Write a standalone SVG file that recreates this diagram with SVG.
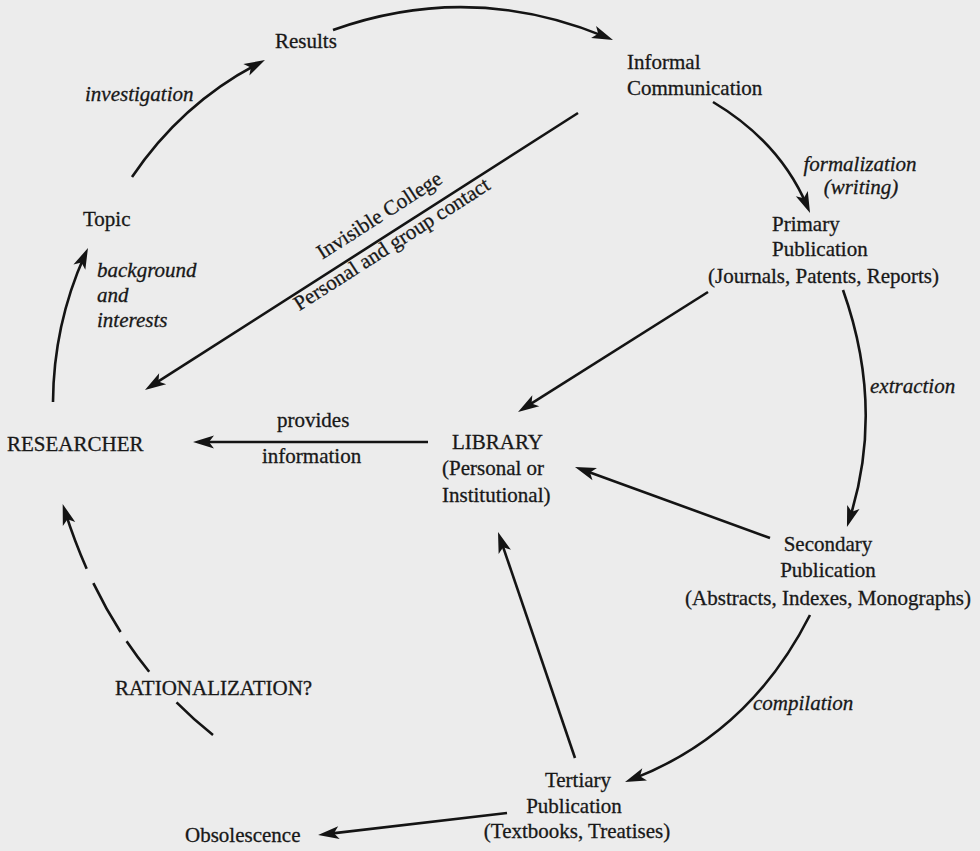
<svg xmlns="http://www.w3.org/2000/svg" width="980" height="851" viewBox="0 0 980 851">
<defs>
<style>
text { font-family: "Liberation Serif", "Times New Roman", serif; font-size: 21px; fill: #181818; stroke: #181818; stroke-width: 0.3; }
.it { font-style: italic; }
.mid { text-anchor: middle; }
.edge { fill: none; stroke: #141414; stroke-width: 2.6; marker-end: url(#ah); }
.dash { stroke-dasharray: 49 41 38 11 56 16 400; }
</style>
<marker id="ah" markerUnits="userSpaceOnUse" orient="auto" refX="-8" refY="0" markerWidth="1" markerHeight="1" overflow="visible">
<path d="M0,0 L-21,-6.5 L-16,0 L-21,6.5 Z" fill="#141414"/>
</marker>
</defs>
<rect x="0" y="0" width="980" height="851" fill="#ececec"/>

<g id="connectors">
<path id="e-results-informal" class="edge" d="M333,30 Q470,-19 605.6,36.9"/>
<path id="e-topic-results" class="edge" d="M132,177 Q181.5,103.5 257.9,63.7"/>
<path id="e-researcher-topic" class="edge" d="M53,402 Q53.5,325 84.7,255.3"/>
<path id="e-informal-primary" class="edge" d="M713,102 Q779.6,141.7 806.9,205.6"/>
<path id="e-invisible-college" class="edge" d="M578,113 L151.7,385.7"/>
<path id="e-primary-library" class="edge" d="M708,292 L524.8,407.7"/>
<path id="e-primary-secondary" class="edge" d="M843,290 Q885,408 849.4,519.4"/>
<path id="e-library-researcher" class="edge" d="M428,442 L201,442"/>
<path id="e-secondary-library" class="edge" d="M770,538 L582.5,469.7"/>
<path id="e-secondary-tertiary" class="edge" d="M810,615 Q749.7,734.1 632.5,779.1"/>
<path id="e-tertiary-library" class="edge" d="M575,758 L500.6,539.6"/>
<path id="e-tertiary-obsolescence" class="edge" d="M507,813 L326,834.1"/>
<path id="e-rationalization" class="edge dash" d="M213,735 Q110,653 65.1,511.6"/>
</g>

<g id="edge-labels">
<text class="it" x="85" y="101">investigation</text>
<text class="it" x="97" y="277">background</text>
<text class="it" x="97" y="302">and</text>
<text class="it" x="97" y="327">interests</text>
<text class="it mid" x="860" y="171">formalization</text>
<text class="it mid" x="861" y="194">(writing)</text>
<text class="it" x="870" y="393">extraction</text>
<text class="it" x="753" y="710">compilation</text>
<text x="277" y="427">provides</text>
<text x="262" y="463">information</text>
<g transform="translate(387,235) rotate(-32.6)">
<text class="mid" x="4" y="-14">Invisible College</text>
<text class="mid" x="-1" y="17">Personal and group contact</text>
</g>
</g>

<g id="node-results"><text x="275" y="48">Results</text></g>
<g id="node-topic"><text x="83" y="226">Topic</text></g>
<g id="node-researcher"><text x="7" y="451">RESEARCHER</text></g>
<g id="node-informal">
<text x="627" y="69">Informal</text>
<text x="627" y="95">Communication</text>
</g>
<g id="node-primary">
<text x="772" y="231">Primary</text>
<text x="772" y="256">Publication</text>
<text x="708" y="283">(Journals, Patents, Reports)</text>
</g>
<g id="node-library">
<text x="452" y="449">LIBRARY</text>
<text x="442" y="475">(Personal or</text>
<text x="442" y="502">Institutional)</text>
</g>
<g id="node-secondary">
<text class="mid" x="828" y="551">Secondary</text>
<text class="mid" x="828" y="577">Publication</text>
<text class="mid" x="828" y="605">(Abstracts, Indexes, Monographs)</text>
</g>
<g id="node-tertiary">
<text class="mid" x="578" y="787">Tertiary</text>
<text class="mid" x="574" y="813">Publication</text>
<text class="mid" x="577" y="838">(Textbooks, Treatises)</text>
</g>
<g id="node-obsolescence"><text x="185" y="842">Obsolescence</text></g>
<g id="node-rationalization"><text x="115" y="695">RATIONALIZATION?</text></g>
</svg>
